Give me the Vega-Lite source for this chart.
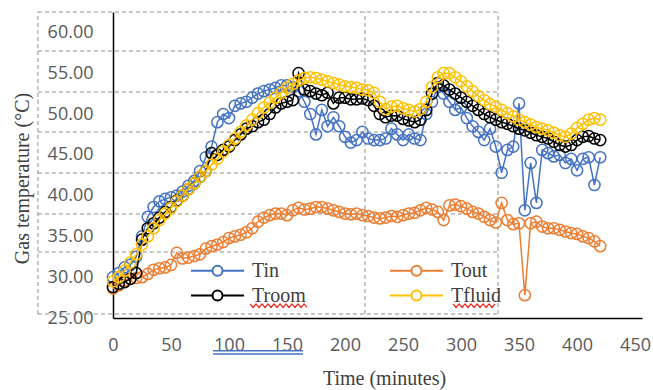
{
  "$schema": "https://vega.github.io/schema/vega-lite/v6.json",
  "width": 529,
  "height": 306,
  "autosize": {"type": "none"},
  "padding": {"left": 113, "top": 12, "right": 11, "bottom": 72},
  "background": "white",
  "config": {
    "view": {"stroke": null},
    "legend": {
      "orient": "none",
      "legendX": 90,
      "legendY": 244,
      "columns": 2,
      "columnPadding": 80,
      "rowPadding": 0,
      "padding": 0,
      "symbolType": "M-2,0H-0.377M0.377,0H2M0.377,0A0.377,0.377,0,1,1,-0.377,0A0.377,0.377,0,1,1,0.377,0",
      "symbolSize": 702,
      "symbolStrokeWidth": 2,
      "symbolFillColor": "transparent",
      "labelFont": "Liberation Serif",
      "labelFontSize": 20,
      "labelColor": "#404040",
      "labelOffset": 20,
      "title": null
    }
  },
  "datasets": {
    "frame": [
      {"x": -64.7, "x2": 331.9, "y": 62.5, "y2": 62.5},
      {"x": -64.7, "x2": 331.9, "y": 57.72, "y2": 57.72},
      {"x": -64.7, "x2": 331.9, "y": 52.7, "y2": 52.7},
      {"x": -64.7, "x2": 331.9, "y": 47.79, "y2": 47.79},
      {"x": -64.7, "x2": 331.9, "y": 42.77, "y2": 42.77},
      {"x": -64.7, "x2": 331.9, "y": 37.75, "y2": 37.75},
      {"x": -64.7, "x2": 331.9, "y": 33.09, "y2": 33.09},
      {"x": -64.7, "x2": 331.9, "y": 25.49, "y2": 25.49},
      {"x": -64.7, "x2": -64.7, "y": 25.49, "y2": 62.5},
      {"x": 217.2, "x2": 217.2, "y": 25.49, "y2": 62.5},
      {"x": 331.9, "x2": 331.9, "y": 25.49, "y2": 62.5}
    ],
    "underline": [
      {"x": 86.2, "x2": 163.8, "y": 20.98},
      {"x": 86.2, "x2": 163.8, "y": 20.6}
    ],
    "squiggle": [
      {"w": "Troom", "t": 118.1, "v": 26.72}, {"w": "Troom", "t": 120.7, "v": 26.29},
      {"w": "Troom", "t": 123.3, "v": 26.72}, {"w": "Troom", "t": 125.9, "v": 26.29},
      {"w": "Troom", "t": 128.4, "v": 26.72}, {"w": "Troom", "t": 131.0, "v": 26.29},
      {"w": "Troom", "t": 133.6, "v": 26.72}, {"w": "Troom", "t": 136.2, "v": 26.29},
      {"w": "Troom", "t": 138.8, "v": 26.72}, {"w": "Troom", "t": 141.4, "v": 26.29},
      {"w": "Troom", "t": 144.0, "v": 26.72}, {"w": "Troom", "t": 146.6, "v": 26.29},
      {"w": "Troom", "t": 149.1, "v": 26.72}, {"w": "Troom", "t": 151.7, "v": 26.29},
      {"w": "Troom", "t": 154.3, "v": 26.72}, {"w": "Troom", "t": 156.9, "v": 26.29},
      {"w": "Troom", "t": 159.5, "v": 26.72}, {"w": "Troom", "t": 162.1, "v": 26.29},
      {"w": "Troom", "t": 164.7, "v": 26.72}, {"w": "Troom", "t": 167.2, "v": 26.29},
      {"w": "Tfluid", "t": 293.1, "v": 26.72}, {"w": "Tfluid", "t": 295.7, "v": 26.29},
      {"w": "Tfluid", "t": 298.3, "v": 26.72}, {"w": "Tfluid", "t": 300.9, "v": 26.29},
      {"w": "Tfluid", "t": 303.4, "v": 26.72}, {"w": "Tfluid", "t": 306.0, "v": 26.29},
      {"w": "Tfluid", "t": 308.6, "v": 26.72}, {"w": "Tfluid", "t": 311.2, "v": 26.29},
      {"w": "Tfluid", "t": 313.8, "v": 26.72}, {"w": "Tfluid", "t": 316.4, "v": 26.29},
      {"w": "Tfluid", "t": 319.0, "v": 26.72}, {"w": "Tfluid", "t": 321.6, "v": 26.29},
      {"w": "Tfluid", "t": 324.1, "v": 26.72}, {"w": "Tfluid", "t": 326.7, "v": 26.29},
      {"w": "Tfluid", "t": 329.3, "v": 26.72}
    ],
    "series": [
      {"t": 0, "Tin": 30.0, "Tout": 28.6, "Troom": 28.8, "Tfluid": 29.5},
      {"t": 5, "Tin": 30.5, "Tout": 29.0, "Troom": 29.2, "Tfluid": 30.0},
      {"t": 10, "Tin": 31.2, "Tout": 29.6, "Troom": 29.4, "Tfluid": 30.8},
      {"t": 15, "Tin": 31.5, "Tout": 29.8, "Troom": 29.8, "Tfluid": 31.8},
      {"t": 20, "Tin": 32.5, "Tout": 29.9, "Troom": 30.5, "Tfluid": 32.8},
      {"t": 25, "Tin": 35.0, "Tout": 30.0, "Troom": 34.6, "Tfluid": 34.0},
      {"t": 30, "Tin": 37.4, "Tout": 30.4, "Troom": 36.0, "Tfluid": 35.0},
      {"t": 35, "Tin": 38.6, "Tout": 30.9, "Troom": 36.6, "Tfluid": 36.0},
      {"t": 40, "Tin": 39.3, "Tout": 31.1, "Troom": 37.3, "Tfluid": 37.0},
      {"t": 45, "Tin": 39.6, "Tout": 31.2, "Troom": 38.0, "Tfluid": 37.8},
      {"t": 50, "Tin": 39.8, "Tout": 31.5, "Troom": 38.6, "Tfluid": 38.5},
      {"t": 55, "Tin": 40.0, "Tout": 33.0, "Troom": 39.4, "Tfluid": 39.3},
      {"t": 60, "Tin": 40.5, "Tout": 32.3, "Troom": 40.0, "Tfluid": 40.0},
      {"t": 65, "Tin": 41.2, "Tout": 32.4, "Troom": 40.8, "Tfluid": 40.8},
      {"t": 70, "Tin": 41.8, "Tout": 32.6, "Troom": 41.5, "Tfluid": 41.5},
      {"t": 75, "Tin": 43.0, "Tout": 32.8, "Troom": 42.3, "Tfluid": 42.3},
      {"t": 80, "Tin": 44.7, "Tout": 33.5, "Troom": 43.0, "Tfluid": 43.0},
      {"t": 85, "Tin": 46.0, "Tout": 33.8, "Troom": 45.2, "Tfluid": 43.8},
      {"t": 90, "Tin": 49.0, "Tout": 34.0, "Troom": 45.0, "Tfluid": 44.5},
      {"t": 95, "Tin": 50.0, "Tout": 34.3, "Troom": 45.6, "Tfluid": 45.4},
      {"t": 100, "Tin": 49.5, "Tout": 34.8, "Troom": 46.0, "Tfluid": 46.2},
      {"t": 105, "Tin": 51.0, "Tout": 35.0, "Troom": 46.8, "Tfluid": 47.0},
      {"t": 110, "Tin": 51.3, "Tout": 35.2, "Troom": 47.5, "Tfluid": 47.8},
      {"t": 115, "Tin": 51.5, "Tout": 35.5, "Troom": 48.2, "Tfluid": 48.6},
      {"t": 120, "Tin": 52.0, "Tout": 36.0, "Troom": 48.5, "Tfluid": 49.3},
      {"t": 125, "Tin": 52.5, "Tout": 36.8, "Troom": 49.0, "Tfluid": 50.1},
      {"t": 130, "Tin": 52.8, "Tout": 37.3, "Troom": 49.3, "Tfluid": 50.8},
      {"t": 135, "Tin": 53.0, "Tout": 37.6, "Troom": 50.0, "Tfluid": 51.4},
      {"t": 140, "Tin": 53.2, "Tout": 37.8, "Troom": 50.8, "Tfluid": 52.0},
      {"t": 145, "Tin": 53.5, "Tout": 37.8, "Troom": 51.3, "Tfluid": 52.6},
      {"t": 150, "Tin": 53.5, "Tout": 37.6, "Troom": 51.5, "Tfluid": 53.2},
      {"t": 155, "Tin": 53.3, "Tout": 38.2, "Troom": 51.7, "Tfluid": 53.7},
      {"t": 160, "Tin": 52.8, "Tout": 38.5, "Troom": 55.0, "Tfluid": 54.1},
      {"t": 165, "Tin": 51.5, "Tout": 38.3, "Troom": 53.0, "Tfluid": 54.4},
      {"t": 170, "Tin": 50.0, "Tout": 38.4, "Troom": 52.8, "Tfluid": 54.5},
      {"t": 175, "Tin": 47.5, "Tout": 38.6, "Troom": 52.5, "Tfluid": 54.4},
      {"t": 180, "Tin": 50.5, "Tout": 38.6, "Troom": 52.3, "Tfluid": 54.2},
      {"t": 185, "Tin": 48.5, "Tout": 38.4, "Troom": 52.6, "Tfluid": 54.0},
      {"t": 190, "Tin": 49.6, "Tout": 38.2, "Troom": 51.3, "Tfluid": 53.8},
      {"t": 195, "Tin": 48.5, "Tout": 38.0, "Troom": 52.0, "Tfluid": 53.6},
      {"t": 200, "Tin": 47.2, "Tout": 37.8, "Troom": 52.0, "Tfluid": 53.4},
      {"t": 205, "Tin": 46.5, "Tout": 37.7, "Troom": 51.8, "Tfluid": 53.3},
      {"t": 210, "Tin": 46.8, "Tout": 37.8, "Troom": 51.8, "Tfluid": 53.2},
      {"t": 215, "Tin": 47.8, "Tout": 37.6, "Troom": 51.9, "Tfluid": 53.0},
      {"t": 220, "Tin": 47.0, "Tout": 37.5, "Troom": 51.7, "Tfluid": 52.9},
      {"t": 225, "Tin": 46.8, "Tout": 37.3, "Troom": 51.0, "Tfluid": 52.6},
      {"t": 230, "Tin": 46.8, "Tout": 37.2, "Troom": 50.0, "Tfluid": 51.5},
      {"t": 235, "Tin": 47.0, "Tout": 37.3, "Troom": 49.6, "Tfluid": 50.6},
      {"t": 240, "Tin": 48.2, "Tout": 37.5, "Troom": 49.8, "Tfluid": 50.9},
      {"t": 245, "Tin": 47.5, "Tout": 37.4, "Troom": 49.8, "Tfluid": 51.0},
      {"t": 250, "Tin": 46.8, "Tout": 37.6, "Troom": 49.4, "Tfluid": 50.7},
      {"t": 255, "Tin": 47.5, "Tout": 37.8, "Troom": 49.2, "Tfluid": 50.5},
      {"t": 260, "Tin": 47.0, "Tout": 37.9, "Troom": 49.0, "Tfluid": 50.3},
      {"t": 265, "Tin": 46.8, "Tout": 38.2, "Troom": 49.3, "Tfluid": 50.6},
      {"t": 270, "Tin": 50.0, "Tout": 38.5, "Troom": 50.5, "Tfluid": 51.5},
      {"t": 275, "Tin": 51.5, "Tout": 38.3, "Troom": 52.5, "Tfluid": 53.3},
      {"t": 280, "Tin": 53.3, "Tout": 38.0, "Troom": 53.8, "Tfluid": 54.5},
      {"t": 285, "Tin": 52.5, "Tout": 37.0, "Troom": 53.5, "Tfluid": 55.0},
      {"t": 290, "Tin": 51.5, "Tout": 38.8, "Troom": 53.0, "Tfluid": 55.0},
      {"t": 295, "Tin": 50.5, "Tout": 38.9, "Troom": 52.5, "Tfluid": 54.5},
      {"t": 300, "Tin": 50.8, "Tout": 38.7, "Troom": 52.0, "Tfluid": 54.0},
      {"t": 305, "Tin": 49.5, "Tout": 38.4, "Troom": 51.5, "Tfluid": 53.4},
      {"t": 310, "Tin": 48.5, "Tout": 38.0, "Troom": 51.0, "Tfluid": 52.8},
      {"t": 315, "Tin": 47.8, "Tout": 37.8, "Troom": 50.5, "Tfluid": 52.2},
      {"t": 320, "Tin": 46.8, "Tout": 37.4, "Troom": 50.0, "Tfluid": 51.7},
      {"t": 325, "Tin": 48.2, "Tout": 37.0, "Troom": 49.6, "Tfluid": 51.2},
      {"t": 330, "Tin": 46.0, "Tout": 36.7, "Troom": 49.3, "Tfluid": 50.9},
      {"t": 335, "Tin": 42.8, "Tout": 39.1, "Troom": 49.0, "Tfluid": 50.5},
      {"t": 340, "Tin": 45.6, "Tout": 37.0, "Troom": 48.8, "Tfluid": 50.1},
      {"t": 345, "Tin": 46.0, "Tout": 36.5, "Troom": 48.5, "Tfluid": 49.7},
      {"t": 350, "Tin": 51.3, "Tout": 36.6, "Troom": 48.2, "Tfluid": 49.3},
      {"t": 355, "Tin": 38.2, "Tout": 27.8, "Troom": 48.0, "Tfluid": 49.0},
      {"t": 360, "Tin": 44.0, "Tout": 36.6, "Troom": 47.7, "Tfluid": 48.7},
      {"t": 365, "Tin": 39.1, "Tout": 36.8, "Troom": 47.4, "Tfluid": 48.4},
      {"t": 370, "Tin": 45.6, "Tout": 36.2, "Troom": 47.2, "Tfluid": 48.2},
      {"t": 375, "Tin": 45.2, "Tout": 36.0, "Troom": 47.0, "Tfluid": 48.0},
      {"t": 380, "Tin": 44.8, "Tout": 36.0, "Troom": 46.6, "Tfluid": 47.7},
      {"t": 385, "Tin": 45.0, "Tout": 35.8, "Troom": 46.2, "Tfluid": 47.4},
      {"t": 390, "Tin": 44.0, "Tout": 35.6, "Troom": 46.0, "Tfluid": 47.2},
      {"t": 395, "Tin": 44.5, "Tout": 35.4, "Troom": 46.2, "Tfluid": 47.6},
      {"t": 400, "Tin": 43.1, "Tout": 35.3, "Troom": 46.8, "Tfluid": 48.3},
      {"t": 405, "Tin": 44.5, "Tout": 35.0, "Troom": 47.2, "Tfluid": 48.8},
      {"t": 410, "Tin": 44.7, "Tout": 34.8, "Troom": 47.3, "Tfluid": 49.3},
      {"t": 415, "Tin": 41.3, "Tout": 34.4, "Troom": 47.0, "Tfluid": 49.5},
      {"t": 420, "Tin": 44.7, "Tout": 33.8, "Troom": 46.8, "Tfluid": 49.3}
    ]
  },
  "layer": [
    {
      "data": {"name": "frame"},
      "mark": {"type": "rule", "color": "#8f8f8f", "strokeDash": [4, 3], "strokeWidth": 1},
      "encoding": {
        "x": {"field": "x", "type": "quantitative", "scale": {"domain": [0, 456], "nice": false, "zero": false}, "title": "Time (minutes)"},
        "x2": {"field": "x2"},
        "y": {"field": "y", "type": "quantitative", "scale": {"domain": [25, 62.5], "nice": false, "zero": false}, "title": "Gas temperature (°C)"},
        "y2": {"field": "y2"}
      }
    },
    {
      "data": {"name": "underline"},
      "mark": {"type": "rule", "color": "#4472C4", "strokeWidth": 1.5},
      "encoding": {
        "x": {"field": "x", "type": "quantitative", "title": "Time (minutes)"},
        "x2": {"field": "x2"},
        "y": {"field": "y", "type": "quantitative", "title": "Gas temperature (°C)"}
      }
    },
    {
      "data": {"name": "squiggle"},
      "mark": {"type": "line", "color": "#E8231E", "strokeWidth": 1.2},
      "encoding": {
        "x": {"field": "t", "type": "quantitative", "title": "Time (minutes)"},
        "y": {"field": "v", "type": "quantitative", "title": "Gas temperature (°C)"},
        "detail": {"field": "w"}
      }
    },
    {
      "data": {"name": "series"},
      "mark": {"type": "line", "strokeWidth": 1.5, "point": {"filled": false, "size": 125, "strokeWidth": 1.5}},
      "encoding": {
        "x": {
          "field": "t", "type": "quantitative", "scale": {"domain": [0, 456], "nice": false, "zero": false}, "title": "Time (minutes)",
          "axis": {
            "values": [0, 50, 100, 150, 200, 250, 300, 350, 400, 450],
            "grid": false, "ticks": false, "tickSize": 0, "labelFlush": false,
            "domainColor": "#000000", "domainWidth": 1.5,
            "labelFont": "Open Sans", "labelFontSize": 18, "labelColor": "#595959", "labelPadding": 18,
            "titleFont": "Liberation Serif", "titleFontSize": 20, "titleFontWeight": "normal", "titleColor": "#404040",
            "titleX": 271, "titleY": 66, "titleBaseline": "alphabetic"
          }
        },
        "y": {
          "field": "Tin", "type": "quantitative", "scale": {"domain": [25, 62.5], "nice": false, "zero": false}, "title": "Gas temperature (°C)",
          "axis": {
            "values": [25, 30, 35, 40, 45, 50, 55, 60], "format": ".2f",
            "grid": false, "ticks": false, "tickSize": 0, "labelFlush": false,
            "domainColor": "#000000", "domainWidth": 1.5,
            "labelFont": "Open Sans", "labelFontSize": 18, "labelColor": "#595959", "labelPadding": 20,
            "titleFont": "Liberation Serif", "titleFontSize": 20, "titleFontWeight": "normal", "titleColor": "#404040",
            "titleX": -91, "titleY": 166, "titleBaseline": "middle", "titleAngle": -90
          }
        },
        "color": {
          "datum": "Tin", "type": "nominal",
          "scale": {"domain": ["Tin", "Troom", "Tout", "Tfluid"], "range": ["#4472C4", "#000000", "#ED7D31", "#FFC000"]}
        }
      }
    },
    {
      "data": {"name": "series"},
      "mark": {"type": "line", "strokeWidth": 1.5, "point": {"filled": false, "size": 125, "strokeWidth": 1.5}},
      "encoding": {
        "x": {"field": "t", "type": "quantitative", "title": "Time (minutes)"},
        "y": {"field": "Tout", "type": "quantitative", "title": "Gas temperature (°C)"},
        "color": {"datum": "Tout", "type": "nominal"}
      }
    },
    {
      "data": {"name": "series"},
      "mark": {"type": "line", "strokeWidth": 1.5, "point": {"filled": false, "size": 125, "strokeWidth": 1.5}},
      "encoding": {
        "x": {"field": "t", "type": "quantitative", "title": "Time (minutes)"},
        "y": {"field": "Troom", "type": "quantitative", "title": "Gas temperature (°C)"},
        "color": {"datum": "Troom", "type": "nominal"}
      }
    },
    {
      "data": {"name": "series"},
      "mark": {"type": "line", "strokeWidth": 1.5, "point": {"filled": false, "size": 125, "strokeWidth": 1.5}},
      "encoding": {
        "x": {"field": "t", "type": "quantitative", "title": "Time (minutes)"},
        "y": {"field": "Tfluid", "type": "quantitative", "title": "Gas temperature (°C)"},
        "color": {"datum": "Tfluid", "type": "nominal"}
      }
    }
  ]
}
